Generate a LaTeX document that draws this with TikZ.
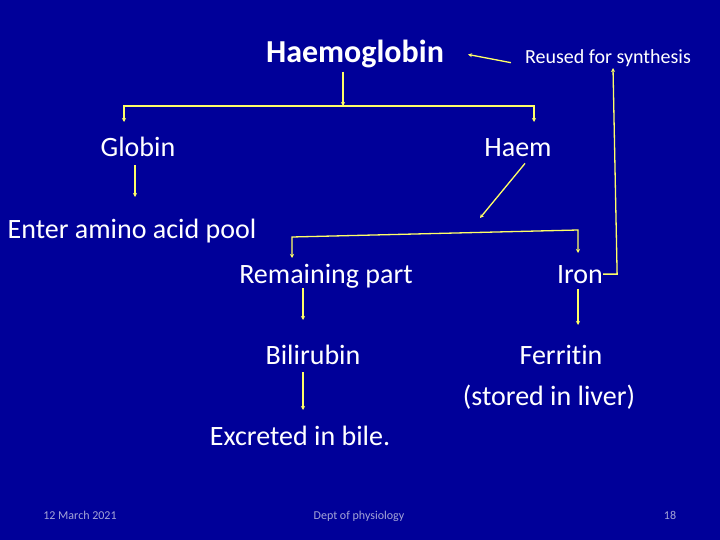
\documentclass[tikz,border=0pt]{standalone}
\usepackage{fontspec}
\setmainfont{Carlito}[Ligatures={NoCommon}]
\usetikzlibrary{arrows.meta}
\definecolor{slideblue}{RGB}{0,0,153}
\definecolor{lineyellow}{RGB}{255,255,102}
\definecolor{footgray}{RGB}{165,165,215}

\begin{document}
\begin{tikzpicture}[x=1pt,y=-1pt,
    txt/.style={text=white, font=\fontsize{28}{32}\selectfont, anchor=base, inner sep=0pt},
    foot/.style={text=footgray, font=\fontsize{12}{14}\selectfont, anchor=base, inner sep=0pt},
    link/.style={draw=lineyellow, line width=1.3pt},
    flow/.style={link, -{Stealth[length=4pt,width=4pt]}}]
\fill[slideblue] (0,0) rectangle (720,540);
\useasboundingbox (0,0) rectangle (720,540);

                \node[txt, font=\bfseries\fontsize{32}{36}\selectfont] (hb) at (355,63) {Haemoglobin};
                \node[txt, font=\fontsize{20}{24}\selectfont] (reuse) at (608,64) {Reused for synthesis};
                \node[txt] (globin) at (138,157) {Globin};
                \node[txt] (haem) at (518,157) {Haem};
                \node[txt] (pool) at (132,239) {Enter amino acid pool};
                \node[txt] (rest) at (326,283) {Remaining part};
                \node[txt] (iron) at (580,283) {Iron};
                \node[txt] (bili) at (313,364) {Bilirubin};
                \node[txt] (ferr) at (561,364) {Ferritin};
                \node[txt] (store) at (549,405) {(stored in liver)};
                \node[txt] (bile) at (300,445) {Excreted in bile.};

                \node[foot] (date) at (80,519) {12 March 2021};
                \node[foot] (dept) at (359,519) {Dept of physiology};
                \node[foot] (page) at (670,519) {18};

                % junctions and arrow ends
                \coordinate (hbsplit) at (343,106);
                \coordinate (globin in) at (124,122);
                \coordinate (haem in) at (534,122);
                \coordinate (pool in) at (135,197);
                \coordinate (haem out) at (480,218);
                \coordinate (split left) at (292,237);
                \coordinate (split right) at (578,230);
                \coordinate (rest in) at (292,258);
                \coordinate (iron in) at (578,253);
                \coordinate (reuse in) at (613,68);
                \coordinate (bili in) at (303,320);
                \coordinate (ferr in) at (578,325);
                \coordinate (bile in) at (303,410);

                \draw[flow, shorten <=3pt] (hb.south -| hbsplit) -- (hbsplit);
                \draw[flow] (hbsplit) -| (globin in);
                \draw[flow] (hbsplit) -| (haem in);
                \draw[flow, shorten <=8pt] (globin.south -| pool in) -- (pool in);
                \draw[flow] ([xshift=7pt,yshift=-6pt]haem.south) -- (haem out);
                \draw[link, {Stealth[length=4pt,width=4pt]}-{Stealth[length=4pt,width=4pt]}] (rest in) -- (split left) -- (split right) -- (iron in);
                \draw[flow] (iron.east) -- ++(14,0) -- (reuse in);
                \draw[flow] ([xshift=-14pt,yshift=-4pt]reuse.west) -- ([xshift=24pt]hb.east);
                \draw[flow] (rest.south -| bili in) -- (bili in);
                \draw[flow, shorten <=6pt] (iron.south -| ferr in) -- (ferr in);
                \draw[flow, shorten <=8pt] (bili.south -| bile in) -- (bile in);
            \end{tikzpicture}
\end{document}
